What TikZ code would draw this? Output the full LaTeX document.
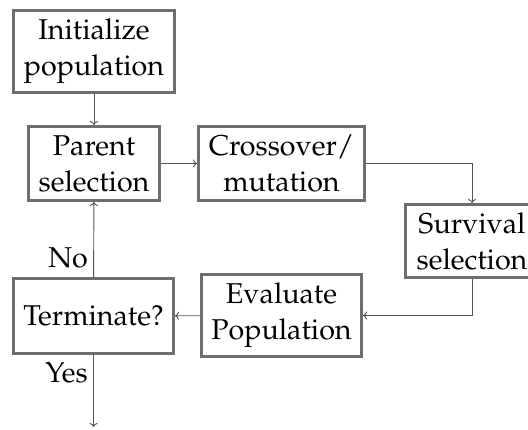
\documentclass[tikz,border=0pt]{standalone}
\usepackage[T1]{fontenc}
\usepackage{mathpazo}
\usetikzlibrary{arrows.meta}
\definecolor{boxgray}{HTML}{6E6E6E}
\definecolor{linegray}{HTML}{555555}
\begin{document}
\begin{tikzpicture}[x=0.75pt,y=-0.75pt,
  txt/.style={font=\fontsize{21.5}{27}\selectfont},
  stepbox/.style={txt, draw=boxgray, line width=2.2pt, fill=white,
    align=center, inner sep=0pt},
  flow/.style={draw=linegray, line width=0.7pt, -{To[length=3pt,width=6pt]}},
  lbl/.style={txt, inner sep=4pt}]
\useasboundingbox (0,0) rectangle (528,429);
\clip (0,0) rectangle (528,429);

% process steps
\node[stepbox, minimum width=120.75pt, minimum height=61.5pt] (init) at (94,51.5) {Initialize\\population};
\node[stepbox, minimum width=98.25pt, minimum height=55.5pt] (parent) at (94,163.5) {Parent\\selection};
\node[stepbox, minimum width=124.5pt, minimum height=55.5pt] (cross) at (281.5,163.5) {Crossover/\\mutation};
\node[stepbox, minimum width=99.75pt, minimum height=54.75pt] (surv) at (472,241) {Survival\\selection};
\node[stepbox, minimum width=120pt, minimum height=61.5pt] (eval) at (281.5,315.5) {Evaluate\\Population};
\node[stepbox, minimum width=120pt, minimum height=56.25pt] (term) at (93.5,316) {Terminate?};
\coordinate (done) at (93.5,427);

% flow of control
\draw[flow] (init) -- (parent);
\draw[flow] (parent) -- (cross);
\draw[flow] (cross.east) -| (surv.north);
\draw[flow] (surv.south) |- (eval.east);
\draw[flow] (eval) -- (term);
\draw[flow] (term) -- node[lbl, left, pos=0.25] (no) {No} (parent);
\draw[flow] (term.south) -- node[lbl, left, pos=0.25] (yes) {Yes} (done);
\end{tikzpicture}
\end{document}
